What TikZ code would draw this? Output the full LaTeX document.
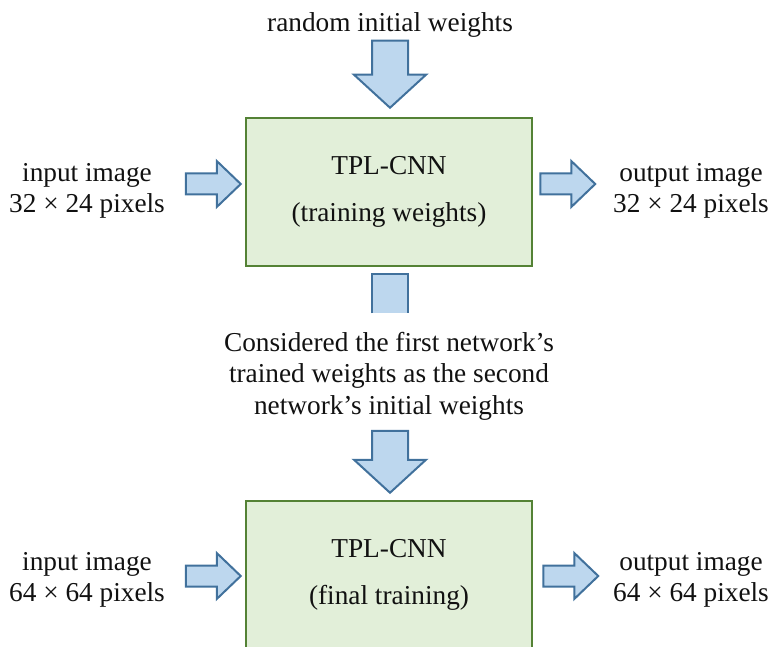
\documentclass[tikz,border=0pt]{standalone}
\usepackage{fontspec}
\setmainfont{Liberation Serif}
\usetikzlibrary{calc}
\definecolor{boxfill}{HTML}{E2EFD9}
\definecolor{boxline}{HTML}{548235}
\definecolor{arrfill}{HTML}{BDD7EE}
\definecolor{arrline}{HTML}{41719C}
\definecolor{txt}{HTML}{111111}
\begin{document}
\begin{tikzpicture}[x=1pt,y=-1pt,
  net/.style={draw=boxline, fill=boxfill, line width=2.5pt, minimum width=286pt,
    minimum height=148pt, inner sep=0pt, align=center, text=txt,
    font=\fontsize{27.3}{47}\selectfont},
  lbl/.style={align=center, text=txt, font=\fontsize{27.3}{31.5}\selectfont, inner sep=0pt},
  barrow/.style={draw=arrline, fill=arrfill, line width=2pt, line join=miter},
  pics/rarrow/.style={code={
    \draw[barrow] (-55,-10.5) -- (-24,-10.5) -- (-24,-23) -- (0,0) -- (-24,23)
      -- (-24,10.5) -- (-55,10.5) -- cycle;}},
  pics/darrow/.style={code={
    \draw[barrow] (-18,-#1) -- (18,-#1) -- (18,-33) -- (36,-33) -- (0,0)
      -- (-36,-33) -- (-18,-33) -- cycle;}}
]
\useasboundingbox (0,0) rectangle (771,647);
\clip (0,0) rectangle (771,647);

% boxes
\node[net] (net1) at (389,192) {TPL-CNN\\(training weights)};
\node[net] (net2) at (389,575) {TPL-CNN\\(final training)};

% labels
\node[lbl] (init) at (390,25) {random initial weights};
\node[lbl] (in1) at (87,191) {input image\\32 × 24 pixels};
\node[lbl] (out1) at (691,191) {output image\\32 × 24 pixels};
\node[lbl] (mid) at (389,376) {Considered the first network’s\\trained weights as the second\\network’s initial weights};
\node[lbl] (in2) at (87,580) {input image\\64 × 64 pixels};
\node[lbl] (out2) at (691,580) {output image\\64 × 64 pixels};

% block arrows
\pic at ($(net1.north)+(1,-9)$) {darrow=67};
\pic at ($(net1.west)+(-4,-8)$) {rarrow};
\pic at ($(net1.east)+(62,-8)$) {rarrow};
\pic at ($(net2.north)+(1,-7)$) {darrow=62};
\pic at ($(net2.west)+(-4,1)$) {rarrow};
\pic at ($(net2.east)+(65,1)$) {rarrow};

% stub below the first box
\coordinate (stubtop) at ($(net1.south)+(1,7)$);
\fill[arrfill] ($(stubtop)+(-18,0)$) rectangle ($(stubtop)+(18,39)$);
\draw[barrow, fill=none] ($(stubtop)+(-18,39)$) -- ($(stubtop)+(-18,0)$)
  -- ($(stubtop)+(18,0)$) -- ($(stubtop)+(18,39)$);
\end{tikzpicture}
\end{document}
